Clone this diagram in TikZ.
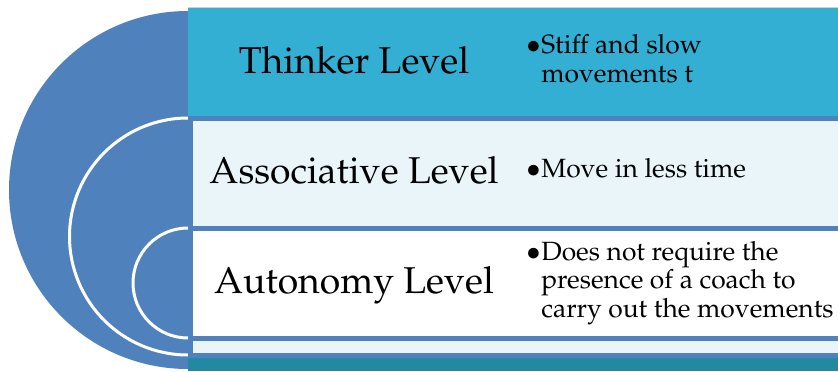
\documentclass[tikz,border=0pt]{standalone}
\usepackage[T1]{fontenc}
\usepackage{mathpazo}
\usepackage{tikz}

\definecolor{discblue}{RGB}{79,129,189}
\definecolor{thinkcyan}{RGB}{52,175,212}
\definecolor{footteal}{RGB}{35,136,161}
\definecolor{assocpale}{RGB}{234,245,249}

\begin{document}
\begin{tikzpicture}[
        x=0.75pt, y=-0.75pt,
        leveltitle/.style = {font=\fontsize{28}{32}\selectfont, anchor=base, inner sep=0pt},        levelpoints/.style = {font=\fontsize{19.8}{21.5}\selectfont, anchor=west, inner sep=0pt},        halfdisc/.style = {fill=discblue, draw=white, line width=2.25pt},        levelbox/.style = {draw=discblue, line width=3.75pt}
    ]
 \useasboundingbox (0,0) rectangle (838,371);
 % outer level
 \fill[discblue] (188,11) arc (270:90:179) -- cycle;
 \fill[thinkcyan] (188,7) rectangle (838,371);
 \fill[footteal] (188,357) rectangle (838,371);
 \draw[gray!35, line width=0.75pt] (188,7) -- (838,7);
 % middle level
 \filldraw[halfdisc] (188,118) arc (270:90:118.5);
 \filldraw[levelbox, fill=assocpale] (190.5,118.5) rectangle (845,355);
 % inner level
 \filldraw[halfdisc] (188,228) arc (270:90:55);
 \filldraw[levelbox, fill=white] (190.5,228.5) rectangle (845,338);

 \node[leveltitle] (thinker) at (354,73) {Thinker Level};
 \node[leveltitle] (assoc) at (354,183) {Associative Level};
 \node[leveltitle] (autonomy) at (354,293) {Autonomy Level};

 \node[levelpoints] (thinkerpts) at (526,62) {\begin{tabular}{@{}l@{\hspace{0.5pt}}l@{}}$\bullet$ & Stiff and slow\\ & movements t\end{tabular}};
 \node[levelpoints] (assocpts) at (526,172) {\begin{tabular}{@{}l@{\hspace{0.5pt}}l@{}}$\bullet$ & Move in less time\end{tabular}};
 \node[levelpoints] (autonomypts) at (526,283) {\begin{tabular}{@{}l@{\hspace{0.5pt}}l@{}}$\bullet$ & Does not require the\\ & presence of a coach to\\ & carry out the movements\end{tabular}};
\end{tikzpicture}
\end{document}
